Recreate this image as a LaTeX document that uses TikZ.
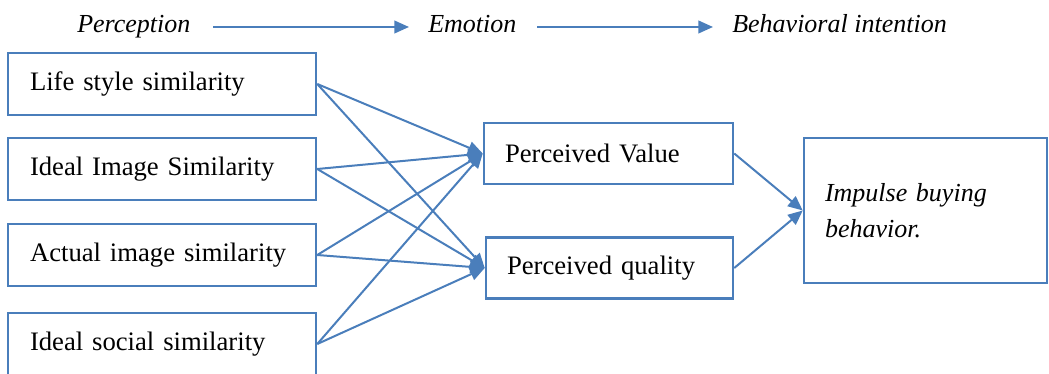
\documentclass[tikz,border=0pt]{standalone}
\usepackage{fontspec}
\setmainfont{Liberation Serif}
\usetikzlibrary{arrows.meta}
\definecolor{bl}{RGB}{74,126,187}
\tikzset{
  box/.style={draw=bl, line width=1.9pt, align=left, inner ysep=0pt, font=\fontsize{20}{24}\selectfont},
  leftbox/.style={box, minimum width=231pt, minimum height=46.5pt, text width=198pt, inner xsep=16.5pt},
  midbox/.style={box, minimum height=46pt, text width=155.25pt, inner xsep=15.75pt},
  head/.style={inner sep=0pt, anchor=base west, font=\fontsize{19.5}{24}\selectfont\itshape},
  conn/.style={draw=bl, line width=1.5pt, -{Triangle[length=11pt,width=9.5pt]}}
}
\begin{document}
\begin{tikzpicture}[x=0.75pt,y=-0.75pt]
\useasboundingbox (0,0) rectangle (1049,374);
% headers
\node[head] (perc) at (77,33) {Perception};
\node[head] (emo) at (428,33) {Emotion};
\node[head] (beh) at (732,33) {Behavioral intention};
\coordinate (h1s) at (213,27);
\coordinate (h1e) at (409,27);
\coordinate (h2s) at (537,27);
\coordinate (h2e) at (713,27);
\draw[conn] (h1s) -- (h1e);
\draw[conn] (h2s) -- (h2e);
% left boxes
\node[leftbox] (b1) at (162,84) {Life style similarity};
\node[leftbox] (b2) at (162,169) {Ideal Image Similarity};
\node[leftbox] (b3) at (162,255) {Actual image similarity};
\node[leftbox] (b4) at (162,344) {Ideal social similarity};
% middle boxes
\node[midbox, minimum width=186.75pt] (pv) at (608.5,153.5) {Perceived Value};
\node[midbox, minimum width=185.25pt, text width=153.75pt] (pq) at (609.5,268) {Perceived quality};
% right box
\node[box, minimum width=182.25pt, minimum height=108.75pt, text width=150.75pt, inner xsep=15.75pt,
      font=\fontsize{19.5}{27}\selectfont\itshape] (ib) at (925.5,210.5) {Impulse buying\\behavior.};
% connectors
\foreach \s in {b1,b2,b3,b4}{
  \draw[conn] (\s.east) -- (pv.west);
  \draw[conn] (\s.east) -- (pq.west);
}
\draw[conn] (pv.east) -- (ib.west);
\draw[conn] (pq.east) -- (ib.west);
\end{tikzpicture}
\end{document}
